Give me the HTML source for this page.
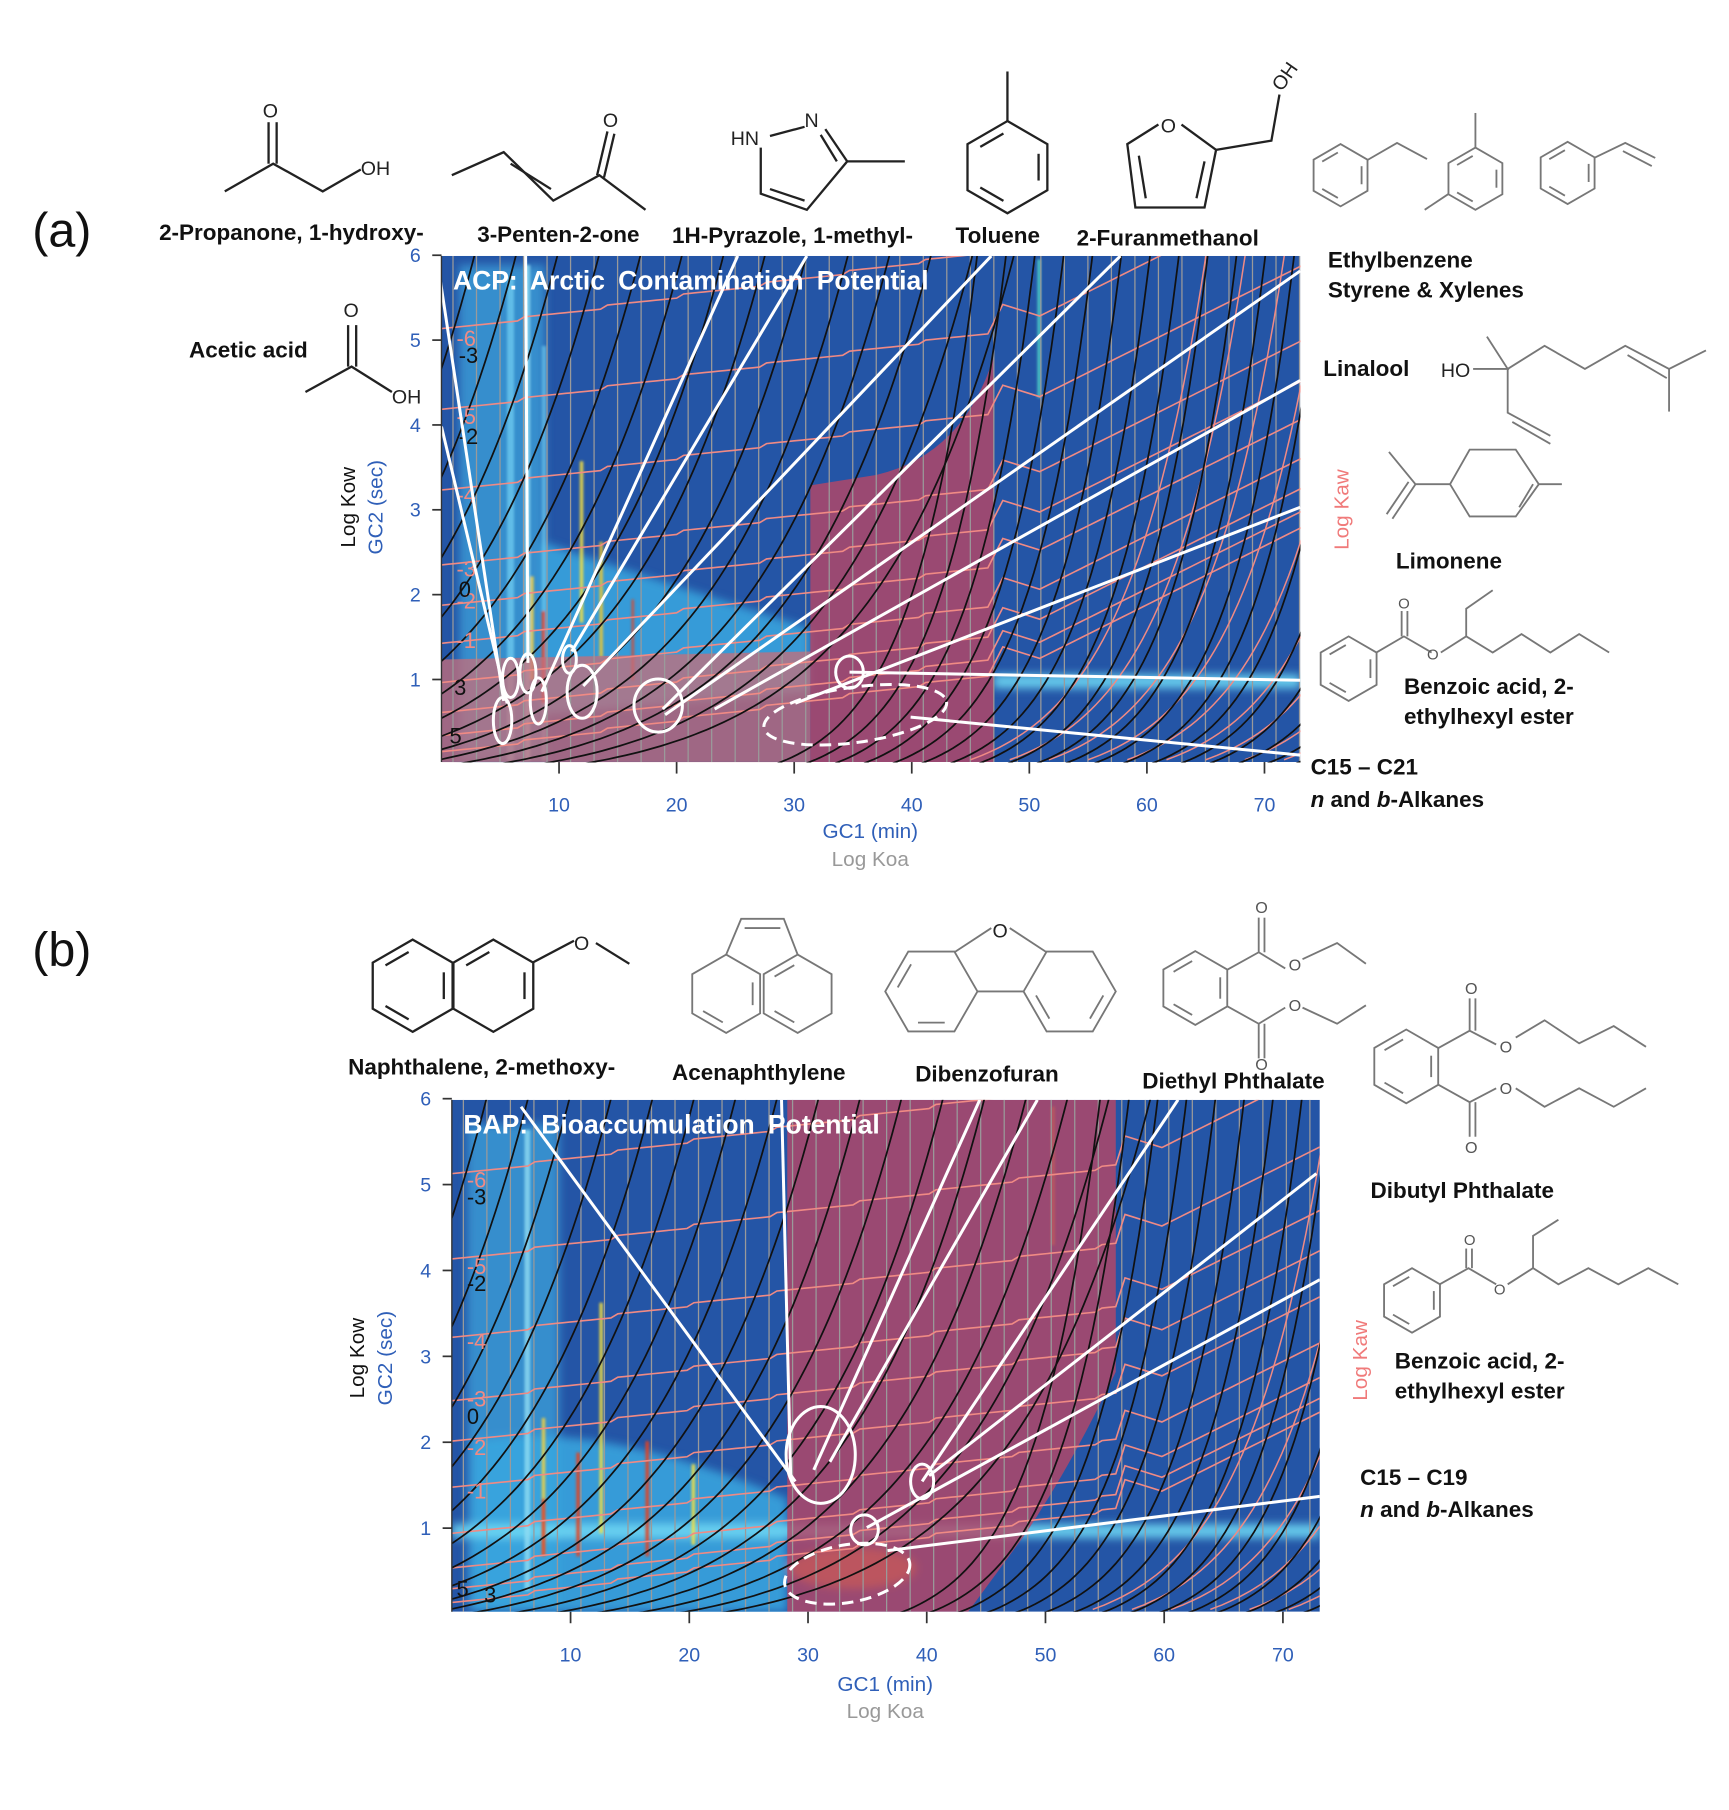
<!DOCTYPE html>
<html><head><meta charset="utf-8">
<style>
html,body{margin:0;padding:0;background:#fff;}
svg{display:block;}
text{font-family:"Liberation Sans",Arial,sans-serif;}
.lb{font-weight:bold;font-size:19.5px;fill:#111;}
.st line,.st polyline,.st polygon{stroke:#222;stroke-width:2;fill:none;}
.gr line,.gr polyline,.gr polygon{stroke:#777;stroke-width:1.6;fill:none;}
.at{font-size:17px;fill:#222;}
</style></head>
<body>
<svg id="s" width="1729" height="1810" viewBox="0 0 1500 1570" preserveAspectRatio="none" xmlns="http://www.w3.org/2000/svg">
<defs>
<filter id="bl" x="-20%" y="-20%" width="140%" height="140%"><feGaussianBlur stdDeviation="4"/></filter>
<filter id="bl2"><feGaussianBlur stdDeviation="1.2"/></filter>
<clipPath id="ca"><rect x="383" y="222" width="745" height="439"/></clipPath>
<clipPath id="cb"><rect x="392" y="954" width="753" height="444"/></clipPath>
</defs>
<g id="pa" clip-path="url(#ca)"></g>
<g id="pb" clip-path="url(#cb)"></g>

<text x="28" y="214" font-size="42" fill="#111">(a)</text>
<text x="28" y="838" font-size="42" fill="#111">(b)</text>

<text class="lb" x="138" y="208">2-Propanone, 1-hydroxy-</text>
<text class="lb" x="414" y="210">3-Penten-2-one</text>
<text class="lb" x="583" y="211">1H-Pyrazole, 1-methyl-</text>
<text class="lb" x="829" y="211">Toluene</text>
<text class="lb" x="934" y="213">2-Furanmethanol</text>
<text class="lb" x="1152" y="232">Ethylbenzene</text>
<text class="lb" x="1152" y="258">Styrene &amp; Xylenes</text>
<text class="lb" x="164" y="310">Acetic acid</text>
<text class="lb" x="1148" y="326">Linalool</text>
<text class="lb" x="1211" y="493">Limonene</text>
<text class="lb" x="1218" y="602">Benzoic acid, 2-</text>
<text class="lb" x="1218" y="628">ethylhexyl ester</text>
<text class="lb" x="1137" y="672">C15 – C21</text>
<text class="lb" x="1137" y="700"><tspan font-style="italic">n</tspan> and <tspan font-style="italic">b</tspan>-Alkanes</text>

<text class="lb" x="302" y="932">Naphthalene, 2-methoxy-</text>
<text class="lb" x="583" y="937">Acenaphthylene</text>
<text class="lb" x="794" y="938">Dibenzofuran</text>
<text class="lb" x="991" y="944">Diethyl Phthalate</text>
<text class="lb" x="1189" y="1039">Dibutyl Phthalate</text>
<text class="lb" x="1210" y="1187">Benzoic acid, 2-</text>
<text class="lb" x="1210" y="1213">ethylhexyl ester</text>
<text class="lb" x="1180" y="1288">C15 – C19</text>
<text class="lb" x="1180" y="1316"><tspan font-style="italic">n</tspan> and <tspan font-style="italic">b</tspan>-Alkanes</text>

<text x="755" y="727" font-size="18" fill="#2f5fb8" text-anchor="middle">GC1 (min)</text>
<text x="755" y="751" font-size="18" fill="#999" text-anchor="middle">Log Koa</text>
<text x="768" y="1467" font-size="18" fill="#2f5fb8" text-anchor="middle">GC1 (min)</text>
<text x="768" y="1490" font-size="18" fill="#999" text-anchor="middle">Log Koa</text>
<g transform="translate(308,440) rotate(-90)"><text font-size="18" fill="#111" text-anchor="middle">Log Kow</text></g>
<g transform="translate(332,440) rotate(-90)"><text font-size="18" fill="#2f5fb8" text-anchor="middle">GC2 (sec)</text></g>
<g transform="translate(316,1178) rotate(-90)"><text font-size="18" fill="#111" text-anchor="middle">Log Kow</text></g>
<g transform="translate(340,1178) rotate(-90)"><text font-size="18" fill="#2f5fb8" text-anchor="middle">GC2 (sec)</text></g>
<g transform="translate(1170,442) rotate(-90)"><text font-size="18" fill="#f07a7a" text-anchor="middle">Log Kaw</text></g>
<g transform="translate(1186,1180) rotate(-90)"><text font-size="18" fill="#f07a7a" text-anchor="middle">Log Kaw</text></g>

<g id="ax"></g>
<g id="mol" class="st"></g>
<g id="molg" class="gr"></g>

<g>
<text class="at" x="228" y="102">O</text>
<text class="at" x="313" y="152">OH</text>
<text class="at" x="523" y="110">O</text>
<text class="at" x="634" y="126">HN</text>
<text class="at" x="698" y="110">N</text>
<text class="at" x="1007" y="115">O</text>
<g transform="translate(1112,80) rotate(-55)"><text class="at">OH</text></g>
<text class="at" x="298" y="275">O</text>
<text class="at" x="340" y="350">OH</text>
<text class="at" x="1250" y="327" fill="#444">HO</text>
<text class="at" x="498" y="824">O</text>
<text class="at" x="861" y="813">O</text>
<text x="1213" y="528" font-size="13" fill="#555">O</text>
<text x="1238" y="572" font-size="13" fill="#555">O</text>
<text x="1089" y="792" font-size="14" fill="#555">O</text>
<text x="1118" y="842" font-size="14" fill="#555">O</text>
<text x="1118" y="877" font-size="14" fill="#555">O</text>
<text x="1089" y="928" font-size="14" fill="#555">O</text>
<text x="1271" y="862" font-size="14" fill="#555">O</text>
<text x="1301" y="913" font-size="14" fill="#555">O</text>
<text x="1301" y="949" font-size="14" fill="#555">O</text>
<text x="1271" y="1000" font-size="14" fill="#555">O</text>
<text x="1270" y="1080" font-size="13" fill="#555">O</text>
<text x="1296" y="1123" font-size="13" fill="#555">O</text>
</g>
</svg>
<script>
const NS="http://www.w3.org/2000/svg";
function el(p,t,a){const e=document.createElementNS(NS,t);for(const k in a)e.setAttribute(k,a[k]);p.appendChild(e);return e;}
function txt(p,x,y,s,a){const e=el(p,'text',a);e.setAttribute('x',x);e.setAttribute('y',y);e.textContent=s;return e;}

function curve(g,s,y1,y0,A,B,col,w){let pts=[];for(let t=0;t<900;t+=5){const y=y1+2-A*(Math.exp(t/B)-1);pts.push((s+t).toFixed(1)+','+y.toFixed(1));if(y<y0-10)break;}
 el(g,'polyline',{points:pts.join(' '),fill:'none',stroke:col,'stroke-width':w});}

function plot(gid,P){
 const g=document.getElementById(gid);
 const {x0,x1,y0,y1,xk}=P;
 el(g,'rect',{x:x0,y:y0,width:x1-x0,height:y1-y0,fill:'#2455a6'});
 const cg=el(g,'g',{filter:'url(#bl)'});
 P.blobs.forEach(b=>el(cg,b[0],b[1]));
 const cs=el(g,'g',{filter:'url(#bl2)'});
 P.streaks.forEach(b=>el(cs,'rect',{x:b[0],y:b[1],width:b[2],height:b[3],fill:b[4],opacity:b[5]||0.9}));
 if(P.red2)el(g,'path',{d:P.red2,fill:'#c86e78',opacity:0.75});
 el(g,'path',{d:P.red,fill:'#b44766',opacity:0.82});
 for(let x=x0+10;x<x1;x+=20.4)el(g,'line',{x1:x,y1:y0,x2:x,y2:y1,stroke:'#9a9a9a','stroke-width':1.1});
 // salmon horizontal stepped lines
 P.sal.forEach((yl,i)=>{let pts=[];for(let x=x0;x<=xk;x+=6){let y=yl-0.10*(x-x0)-3*Math.floor((x-x0)/70);pts.push(x+','+y.toFixed(1));}
  let yk=yl-0.10*(xk-x0)-3*Math.floor((xk-x0)/70);
  pts.push((xk+8)+','+(yk-25));pts.push((xk+40)+','+(yk-15));
  for(let x=xk+40;x<=x1+20;x+=6){pts.push(x+','+(yk-15-0.5*(x-xk-40)).toFixed(1));}
  el(g,'polyline',{points:pts.join(' '),fill:'none',stroke:'#f08a84','stroke-width':1.4});});
 // steep salmon in right
 for(let s=xk-20;s<x1+60;s+=34)curve(g,s,y1-4,y0,25,70,'#f08a84',1.3);
 // black curves
 for(let s=x0-420;s<xk-330;s+=36)curve(g,s,y1,y0,20,120,'#111',1.5);
 for(let s=xk-190;s<x1;s+=25)curve(g,s,y1,y0,20,56,'#111',1.5);
 P.llab.forEach(l=>txt(g,l[0],l[1],l[2],{'font-size':19,fill:l[3]}));
 P.wl.forEach(l=>el(g,'line',{x1:l[0],y1:l[1],x2:l[2],y2:l[3],stroke:'#fff','stroke-width':2.6}));
 P.el.forEach(e=>el(g,'ellipse',{cx:e[0],cy:e[1],rx:e[2],ry:e[3],fill:'none',stroke:'#fff','stroke-width':2.6,transform:`rotate(${e[4]||0} ${e[0]} ${e[1]})`}));
 P.dash.forEach(e=>el(g,'ellipse',{cx:e[0],cy:e[1],rx:e[2],ry:e[3],fill:'none',stroke:'#fff','stroke-width':2.6,'stroke-dasharray':'10 6',transform:`rotate(${e[4]||0} ${e[0]} ${e[1]})`}));
 txt(g,x0+10,y0+29,P.title,{'font-size':23,'font-weight':'bold',fill:'#fff','word-spacing':'5'});
 const ax=document.getElementById('ax');
 el(ax,'line',{x1:x0,y1:y0,x2:x0,y2:y1,stroke:'#333','stroke-width':1.2});
 for(let i=1;i<=7;i++){const x=x0+i*P.dx;el(ax,'line',{x1:x,y1:y1,x2:x,y2:y1+10,stroke:'#333','stroke-width':1.5});txt(ax,x,y1+43,String(i*10),{'font-size':17,fill:'#2f5fb8','text-anchor':'middle'});}
 for(let i=1;i<=6;i++){const y=y1+2-i*P.dy;el(ax,'line',{x1:x0-8,y1:y,x2:x0,y2:y,stroke:'#333','stroke-width':1.5});txt(ax,x0-18,y+6,String(i),{'font-size':17,fill:'#2f5fb8','text-anchor':'end'});}
}

plot('pa',{x0:383,x1:1128,y0:222,y1:661,xk:862,dx:102,dy:73.6,title:'ACP: Arctic Contamination Potential',
 blobs:[['rect',{x:398,y:230,width:75,height:430,fill:'#3fa6de',opacity:0.7}],
  ['path',{d:'M470 620 L470 470 Q560 500 703 545 L703 600 Z',fill:'#3aa8e0',opacity:0.85}],
  ['rect',{x:862,y:585,width:266,height:12,fill:'#6fd8f4',opacity:0.9}]],
 streaks:[[440,240,6,420,'#6cc8ee',0.8],[455,230,5,430,'#8fdcf2',0.8],[470,300,4,360,'#6cc8ee',0.7],[503,400,3,140,'#f5e040'],[460,500,3,90,'#f2d040'],[520,470,3,100,'#f0c830'],[470,530,3,80,'#e84020'],[548,520,2,70,'#e84020'],[900,225,3,120,'#4fd0c8']],
 red:'M703 661 L703 421 L760 412 Q835 395 862 310 L862 661 Z',
 red2:'M383 572 L703 565 L703 661 L383 661 Z',
 sal:[285,355,425,490,525,558,592,618,638,652],
 llab:[[396,300,'-6','#f08a84'],[396,368,'-5','#f08a84'],[396,436,'-4','#f08a84'],[396,500,'-3','#f08a84'],[396,528,'-2','#f08a84'],[396,562,'-1','#f08a84'],[390,645,'5','#111'],[394,603,'3','#111'],[398,518,'0','#111'],[398,385,'-2','#111'],[398,315,'-3','#111']],
 wl:[[380,230,437,608],[383,370,440,610],[456,222,458,575],[470,600,640,222],[496,565,700,222],[506,595,860,222],[575,615,972,222],[577,620,1128,235],[620,615,1128,330],[690,610,1128,440],[737,583,1128,590],[790,622,1128,655]],
 el:[[436,625,8,20],[443,588,7,17],[458,584,7,17],[467,608,7,20],[494,572,6,12],[505,600,13,23],[571,612,21,23],[737,583,12,14]],
 dash:[[742,620,80,24,-8]]});

plot('pb',{x0:392,x1:1145,y0:954,y1:1398,xk:968,dx:103,dy:74.5,title:'BAP: Bioaccumulation Potential',
 blobs:[['rect',{x:405,y:975,width:80,height:420,fill:'#3fa6de',opacity:0.7}],
  ['path',{d:'M410 1398 L410 1250 Q520 1230 683 1300 L683 1398 Z',fill:'#3aa8e0',opacity:0.85}],
  ['ellipse',{cx:740,cy:1360,rx:55,ry:18,fill:'#f0a030',opacity:0.9}],
  ['rect',{x:392,y:1322,width:753,height:12,fill:'#6fd8f4',opacity:0.9}]],
 streaks:[[455,980,5,400,'#8fdcf2',0.8],[470,1230,3,120,'#f2d040'],[520,1130,3,200,'#f5e040'],[500,1260,3,90,'#e84020'],[560,1250,3,100,'#e84020'],[600,1270,3,70,'#f5e040'],[470,1300,3,50,'#e84020'],[912,960,3,120,'#e0b040']],
 red:'M683 954 L968 954 L968 1190 Q930 1270 890 1330 L840 1398 L683 1398 Z',
 sal:[1018,1092,1160,1215,1250,1290,1330,1360,1378,1390],
 llab:[[405,1030,'-6','#f08a84'],[405,1105,'-5','#f08a84'],[405,1170,'-4','#f08a84'],[405,1220,'-3','#f08a84'],[405,1262,'-2','#f08a84'],[405,1300,'-1','#f08a84'],[396,1385,'5','#111'],[420,1390,'3','#111'],[405,1235,'0','#111'],[405,1120,'-2','#111'],[405,1045,'-3','#111']],
 wl:[[452,960,690,1285],[678,954,686,1282],[706,1275,850,954],[720,1268,900,954],[800,1285,1022,954],[806,1280,1142,1018],[752,1325,1145,1110],[770,1345,1145,1298]],
 el:[[712,1262,30,42],[800,1285,10,15],[750,1327,12,13]],
 dash:[[735,1365,55,25,-10]]});

const M=document.getElementById('mol'), G=document.getElementById('molg');
function L(p,pts){el(p,'polyline',{points:pts.map(a=>a.join(',')).join(' ')});}
function hex(p,cx,cy,r,rot,dbl){let v=[];for(let i=0;i<6;i++){const a=(rot+60*i)*Math.PI/180;v.push([cx+r*Math.cos(a),cy+r*Math.sin(a)]);}
 el(p,'polygon',{points:v.map(a=>a.join(',')).join(' ')});
 (dbl||[0,2,4]).forEach(i=>{const a=v[i],b=v[(i+1)%6];const k=0.78;
  L(p,[[cx+(a[0]-cx)*k+(b[0]-a[0])*0.1,cy+(a[1]-cy)*k+(b[1]-a[1])*0.1],[cx+(b[0]-cx)*k-(b[0]-a[0])*0.1,cy+(b[1]-cy)*k-(b[1]-a[1])*0.1]]);});
 return v;}
L(M,[[195,166],[237,142],[280,166],[313,147]]);L(M,[[233,142],[233,106]]);L(M,[[240,142],[240,106]]);
L(M,[[392,152],[437,132],[480,174],[520,152],[560,182]]);L(M,[[443,142],[478,164]]);L(M,[[518,152],[527,114]]);L(M,[[524,154],[533,116]]);
L(M,[[660,128],[660,168],[700,182],[735,140],[716,112]]);L(M,[[668,164],[698,174]]);L(M,[[726,140],[712,117]]);L(M,[[735,140],[785,140]]);L(M,[[668,118],[698,110]]);
hex(M,874,145,40,-90,[1,3,5]);L(M,[[874,105],[874,62]]);
L(M,[[1005,108],[978,125],[985,180],[1045,180],[1055,130],[1025,108]]);L(M,[[988,135],[994,172]]);L(M,[[1045,140],[1038,172]]);L(M,[[1055,130],[1103,122],[1110,82]]);
L(M,[[265,340],[305,318],[340,340]]);L(M,[[302,318],[302,282]]);L(M,[[309,318],[309,282]]);
hex(G,1163,152,27,-30);L(G,[[1186,139],[1212,124],[1238,138]]);
hex(G,1280,155,27,-90,[1,3,5]);L(G,[[1280,128],[1280,98]]);L(G,[[1257,168],[1236,182]]);
hex(G,1360,150,27,-30);L(G,[[1383,137],[1410,124],[1436,137]]);L(G,[[1408,131],[1433,144]]);
L(G,[[1278,320],[1308,320],[1290,292]]);L(G,[[1308,320],[1340,300],[1375,320],[1410,300],[1448,320],[1480,304]]);L(G,[[1448,320],[1448,357]]);L(G,[[1412,308],[1446,328]]);
L(G,[[1308,320],[1308,358],[1345,378]]);L(G,[[1312,366],[1345,385]]);
L(G,[[1258,420],[1275,390],[1315,390],[1335,420],[1315,448],[1275,448],[1258,420]]);L(G,[[1318,440],[1330,420]]);L(G,[[1335,420],[1355,420]]);L(G,[[1258,420],[1228,420],[1205,392]]);L(G,[[1228,420],[1208,450]]);L(G,[[1222,418],[1203,446]]);
hex(G,1170,580,28,-30);L(G,[[1194,566],[1218,552],[1242,566]]);L(G,[[1216,552],[1216,530]]);L(G,[[1221,552],[1221,530]]);
L(G,[[1250,566],[1272,552],[1295,566],[1320,550],[1345,566],[1370,550],[1396,566]]);L(G,[[1272,552],[1272,528],[1295,512]]);
hex(M,358,855,40,-90,[1,3,5]);hex(M,428,855,40,-90,[5,1]);L(M,[[462,835],[498,816]]);L(M,[[517,818],[546,836]]);
hex(G,630,862,34,-90,[1,3]);hex(G,692,862,34,-90,[3,5]);L(G,[[630,828],[643,797],[680,797],[692,828]]);L(G,[[646,805],[677,805]]);
hex(G,808,860,40,0,[1,3]);hex(G,928,860,40,0,[0,2]);L(G,[[828,826],[860,805]]);L(G,[[876,805],[908,826]]);L(G,[[848,860],[888,860]]);
hex(G,1037,857,32,-90,[1,3,5]);L(G,[[1065,841],[1092,826],[1092,796]]);L(G,[[1097,826],[1097,796]]);L(G,[[1092,826],[1115,840]]);L(G,[[1130,832],[1160,818],[1185,836]]);
L(G,[[1065,873],[1092,888],[1092,918]]);L(G,[[1097,888],[1097,918]]);L(G,[[1092,888],[1115,874]]);L(G,[[1130,874],[1160,888],[1185,872]]);
hex(G,1220,925,32,-90,[1,3,5]);L(G,[[1248,909],[1275,894],[1275,866]]);L(G,[[1280,894],[1280,866]]);L(G,[[1275,894],[1298,906]]);L(G,[[1315,900],[1340,885],[1370,905],[1400,890],[1428,908]]);
L(G,[[1248,941],[1275,956],[1275,986]]);L(G,[[1280,956],[1280,986]]);L(G,[[1275,956],[1298,944]]);L(G,[[1315,944],[1340,960],[1370,944],[1400,960],[1428,944]]);
hex(G,1225,1128,28,-30);L(G,[[1249,1114],[1274,1100],[1298,1114]]);L(G,[[1272,1100],[1272,1083]]);L(G,[[1277,1100],[1277,1083]]);
L(G,[[1308,1114],[1330,1100],[1352,1114],[1378,1100],[1404,1114],[1430,1100],[1456,1114]]);L(G,[[1330,1100],[1330,1072],[1352,1058]]);
</script>
</body></html>
